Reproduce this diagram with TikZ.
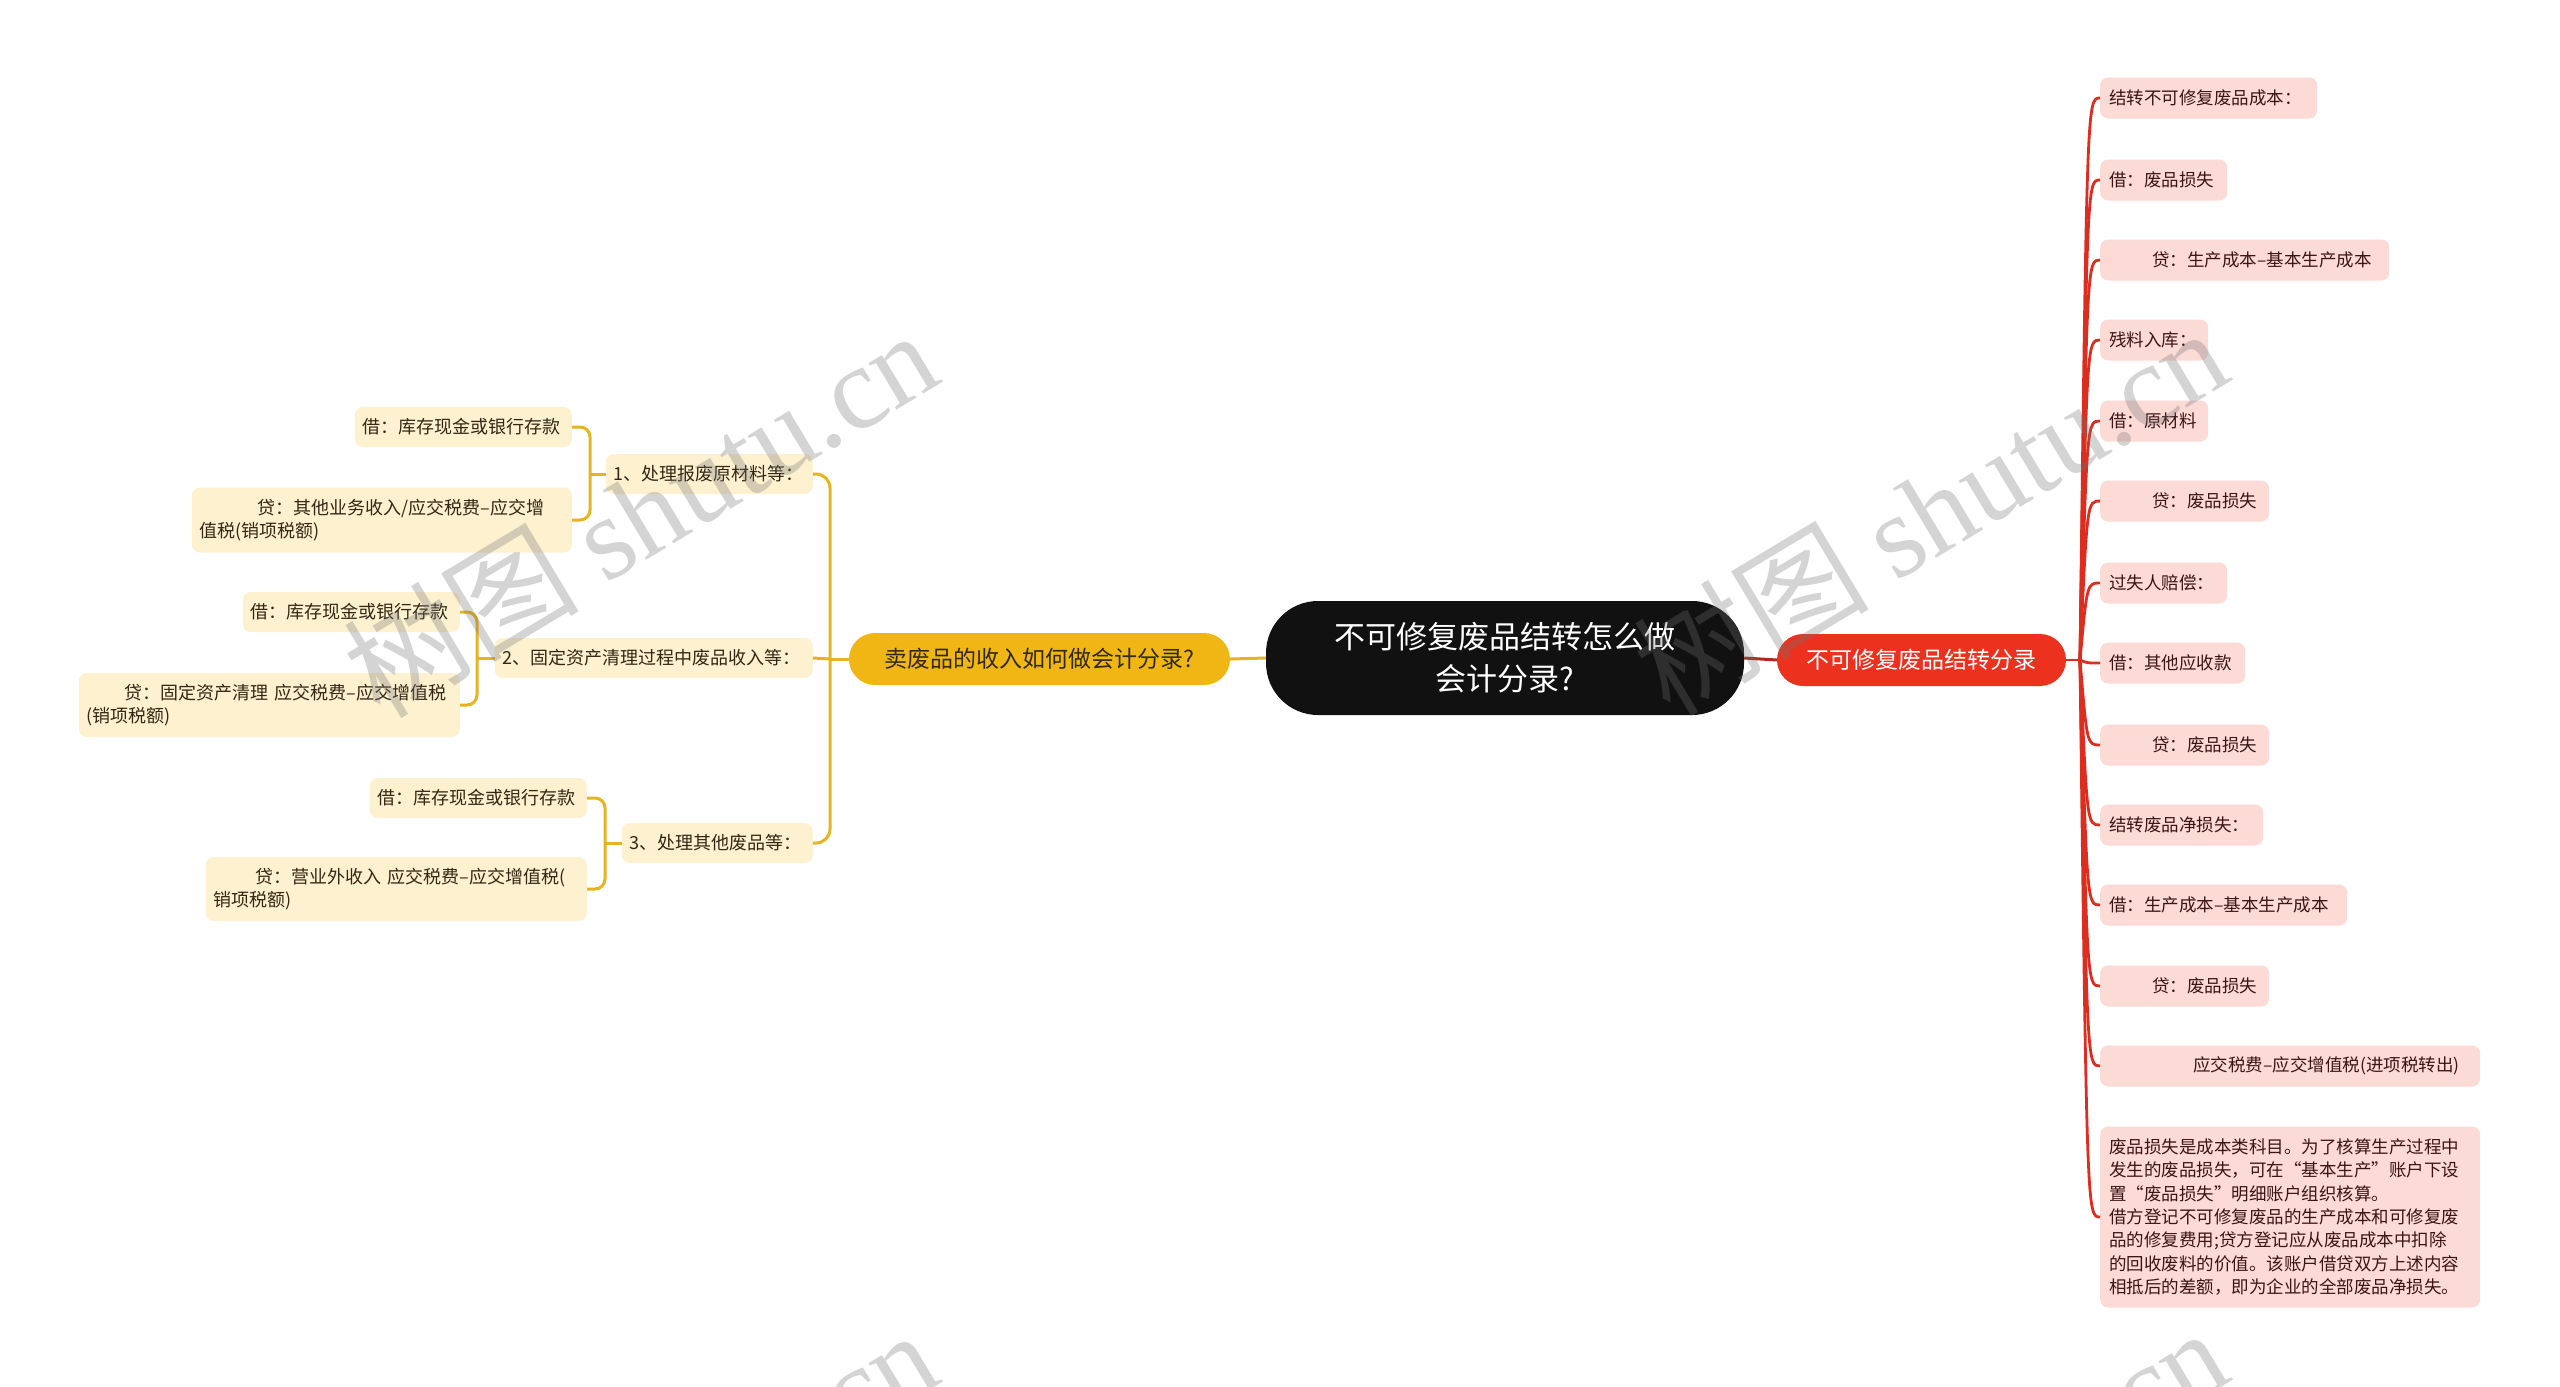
\documentclass[tikz,border=0pt]{standalone}
\usepackage{fontspec}
\setmainfont{Noto Sans CJK SC}
\newfontfamily\wmlatin{Liberation Serif}
\usetikzlibrary{calc}
\definecolor{rootF}{RGB}{17,17,17}
\definecolor{redF}{RGB}{236,50,30}
\definecolor{redL}{RGB}{220,45,30}
\definecolor{redD}{RGB}{175,40,30}
\definecolor{pinkF}{RGB}{252,218,214}
\definecolor{pinkT}{RGB}{60,20,20}
\definecolor{yelF}{RGB}{240,183,20}
\definecolor{creamF}{RGB}{253,241,208}
\definecolor{creamT}{RGB}{50,40,20}
\definecolor{goldL}{RGB}{230,180,30}
\begin{document}
\begin{tikzpicture}[x=1pt,y=-1pt,
  rootbox/.style={fill=rootF,text=white,rounded corners=52pt,minimum width=478pt,minimum height=114pt,align=center,inner sep=0pt,font=\fontsize{31}{42}\selectfont},
  redbox/.style={fill=redF,text=white,rounded corners=26pt,minimum width=289pt,minimum height=52pt,inner sep=0pt,font=\fontsize{23}{28}\selectfont},
  yelbox/.style={fill=yelF,text=creamT,rounded corners=26pt,minimum width=381pt,minimum height=52pt,inner sep=0pt,font=\fontsize{23}{28}\selectfont},
  rleaf/.style={fill=pinkF,text=pinkT,rounded corners=8pt,inner xsep=9pt,inner ysep=0pt,minimum height=41pt,anchor=west,align=left,font=\fontsize{17.5}{23.3}\selectfont},
  lleaf/.style={fill=creamF,text=creamT,rounded corners=8pt,inner xsep=8pt,inner ysep=0pt,minimum height=40pt,anchor=east,align=left,font=\fontsize{18}{23.5}\selectfont},
  gline/.style={draw=goldL,line width=3pt},
  rline/.style={draw=redL,line width=2.8pt},
  wm/.style={text=black!55,text opacity=0.3,inner sep=0pt,font=\fontsize{118}{118}\selectfont}
]
\fill[white] (0,0) rectangle (2560,1387);
\useasboundingbox (0,0) rectangle (2560,1387);

% main nodes
\node[rootbox] (root) at (1505,658) {不可修复废品结转怎么做\\会计分录?};
\node[redbox] (R) at (1921.5,660) {不可修复废品结转分录};
\node[yelbox] (Y) at (1039.5,659) {卖废品的收入如何做会计分录?};

% right leaves
\node[rleaf,text width=199pt] (r1) at (2100,98) {结转不可修复废品成本：};
\node[rleaf,text width=109pt] (r2) at (2100,180) {借：废品损失};
\node[rleaf,text width=271pt] (r3) at (2100,260) {\hspace*{43pt}贷：生产成本–基本生产成本};
\node[rleaf,text width=90pt] (r4) at (2100,340) {残料入库：};
\node[rleaf,text width=90pt] (r5) at (2100,421) {借：原材料};
\node[rleaf,text width=151pt] (r6) at (2100,501) {\hspace*{43pt}贷：废品损失};
\node[rleaf,text width=109pt] (r7) at (2100,583) {过失人赔偿：};
\node[rleaf,text width=127pt] (r8) at (2100,663) {借：其他应收款};
\node[rleaf,text width=151pt] (r9) at (2100,745) {\hspace*{43pt}贷：废品损失};
\node[rleaf,text width=145pt] (r10) at (2100,825) {结转废品净损失：};
\node[rleaf,text width=229pt] (r11) at (2100,905) {借：生产成本–基本生产成本};
\node[rleaf,text width=151pt] (r12) at (2100,986) {\hspace*{43pt}贷：废品损失};
\node[rleaf,text width=362pt] (r13) at (2100,1066) {\hspace*{84pt}应交税费–应交增值税(进项税转出)};
\node[rleaf,text width=362pt,minimum height=181pt] (r14) at (2100,1217) {废品损失是成本类科目。为了核算生产过程中\\发生的废品损失，可在“基本生产”账户下设\\置“废品损失”明细账户组织核算。\\借方登记不可修复废品的生产成本和可修复废\\品的修复费用;贷方登记应从废品成本中扣除\\的回收废料的价值。该账户借贷双方上述内容\\相抵后的差额，即为企业的全部废品净损失。};

% left second level
\node[lleaf,text width=191pt] (n1) at (813,474) {1、处理报废原材料等：};
\node[lleaf,text width=302pt] (n2) at (813,658) {2、固定资产清理过程中废品收入等：};
\node[lleaf,text width=175pt] (n3) at (813,843) {3、处理其他废品等：};

% left leaves
\node[lleaf,text width=201pt] (a1) at (572,427) {借：库存现金或银行存款};
\node[lleaf,text width=364pt,minimum height=65pt] (a2) at (572,520) {\hspace*{58pt}贷：其他业务收入/应交税费–应交增\\值税(销项税额)};
\node[lleaf,text width=201pt] (b1) at (460,612) {借：库存现金或银行存款};
\node[lleaf,text width=365pt,minimum height=64pt] (b2) at (460,705) {\hspace*{38pt}贷：固定资产清理~应交税费–应交增值税\\(销项税额)};
\node[lleaf,text width=201pt] (c1) at (587,798) {借：库存现金或银行存款};
\node[lleaf,text width=365pt,minimum height=64pt] (c2) at (587,889) {\hspace*{42pt}贷：营业外收入~应交税费–应交增值税(\\销项税额)};

% gold connectors
\draw[gline] (root.west) -- (Y.east);
\coordinate (yj) at (830,659);
\draw[gline] (Y.west) -- (yj);
\draw[gline,rounded corners=14pt] (yj) |- (n1.east);
\draw[gline] (yj) -- (n2.east);
\draw[gline,rounded corners=14pt] (yj) |- (n3.east);

\coordinate (aj) at (590,474);
\draw[gline] (n1.west) -- (aj);
\draw[gline,rounded corners=10pt] (aj) |- (a1.east);
\draw[gline,rounded corners=10pt] (aj) |- (a2.east);

\coordinate (bj) at (477,658);
\draw[gline] (n2.west) -- (bj);
\draw[gline,rounded corners=10pt] (bj) |- (b1.east);
\draw[gline,rounded corners=10pt] (bj) |- (b2.east);

\coordinate (cj) at (605,843);
\draw[gline] (n3.west) -- (cj);
\draw[gline,rounded corners=10pt] (cj) |- (c1.east);
\draw[gline,rounded corners=10pt] (cj) |- (c2.east);

% red connectors
\draw[draw=redD,line width=3pt] (root.east) -- (R.west);
\coordinate (rj) at (2080,660);
\draw[rline] (R.east) -- (rj);
\foreach \n in {r1,r2,r3,r4,r5,r6,r7,r8,r9,r10,r11,r12,r13,r14}{
  \draw[rline] (rj) .. controls ($(\n.west)+(-13,0)$) .. (\n.west);
}

% watermarks
\begin{scope}
\clip (0,0) rectangle (2560,1387);
\node[wm,rotate=31] (w1) at (640,512) {树图~{\wmlatin shutu.cn}};
\node[wm,rotate=31] (w2) at (1930,510) {树图~{\wmlatin shutu.cn}};
\node[wm,rotate=31] (w3) at (640,1512) {树图~{\wmlatin shutu.cn}};
\node[wm,rotate=31] (w4) at (1930,1510) {树图~{\wmlatin shutu.cn}};
\end{scope}
\end{tikzpicture}
\end{document}
